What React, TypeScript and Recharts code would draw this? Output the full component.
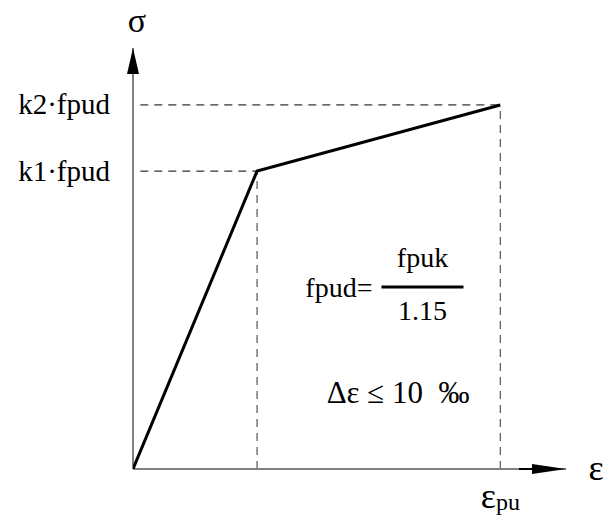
import { ComposedChart, Line, XAxis, YAxis, ReferenceLine, ReferenceDot } from 'recharts'

// strain (arbitrary units) / stress (in fpud) of the bilinear prestressing steel law
const strain = [0, 5.1, 15.1]
const stress = [0, 0.9, 1.1]
const stressTicks = [0.9, 1.1]
const stressTickLabels = ['k1·fpud', 'k2·fpud']
const strainTicks = [15.1]

const X_MAX = 17.8
const Y_MAX = 1.272

const FAMILY = 'Liberation Serif'
const AXIS = '#808080'

const data = strain.map((e, i) => ({ eps: e, sig: stress[i] }))

const StressTick = (props: any) => {
  const { x, y, payload } = props
  const idx = stressTicks.indexOf(payload.value)
  return (
    <text x={x} y={y} dy="0.33em" textAnchor="end" fontFamily={FAMILY} fontSize={29} fill="#000">
      {stressTickLabels[idx]}
    </text>
  )
}

const StrainTick = (props: any) => {
  const { x, y } = props
  return (
    <text x={x} y={y + 31} textAnchor="middle" fontFamily={FAMILY} fill="#000">
      <tspan fontSize={36}>ε</tspan>
      <tspan fontSize={24} dy={2}>pu</tspan>
    </text>
  )
}

const ArrowUp = (props: any) => {
  const { cx, cy } = props
  return (
    <g>
      <path d={`M${cx},${cy} L${cx - 6},${cy + 26} L${cx + 6},${cy + 26} Z`} fill="#000" />
      <text x={cx + 4} y={cy - 16} textAnchor="middle" fontFamily={FAMILY} fontSize={34} fill="#000">σ</text>
    </g>
  )
}

const ArrowRight = (props: any) => {
  const { cx, cy } = props
  return (
    <g>
      <line x1={cx - 47} y1={cy} x2={cx - 20} y2={cy} stroke="#000" strokeWidth={2} />
      <path d={`M${cx},${cy} L${cx - 34},${cy - 5} L${cx - 34},${cy + 5} Z`} fill="#000" />
      <text x={cx + 30} y={cy} dy="0.3em" textAnchor="middle" fontFamily={FAMILY} fontSize={36} fill="#000">ε</text>
    </g>
  )
}

const Fraction = (props: any) => {
  const { cx, cy } = props
  return (
    <g fill="#000" fontFamily={FAMILY} fontSize={28}>
      <text x={cx - 50} y={cy + 10} textAnchor="end">fpud=</text>
      <line x1={cx - 41} y1={cy} x2={cx + 41} y2={cy} stroke="#000" strokeWidth={3} />
      <text x={cx} y={cy - 20} textAnchor="middle">fpuk</text>
      <text x={cx} y={cy + 33} textAnchor="middle">1.15</text>
    </g>
  )
}

const StrainLimit = (props: any) => {
  const { cx, cy } = props
  return (
    <text x={cx} y={cy} textAnchor="middle" fontFamily={FAMILY} style={{ whiteSpace: 'pre' }} fontSize={31} fill="#000">
      Δε ≤ 10  ‰
    </text>
  )
}

export default function App() {
  return (
    <div style={{ position: 'absolute', left: 0, top: 0, background: '#fff' }}>
      <ComposedChart width={606} height={516} data={data} margin={{ top: 48, right: 40, bottom: 0, left: 0 }}>
        <XAxis
          type="number"
          dataKey="eps"
          domain={[0, X_MAX]}
          ticks={strainTicks}
          height={47}
          axisLine={false}
          tickLine={false}
          tick={<StrainTick />}
          allowDataOverflow
        />
        <YAxis
          type="number"
          domain={[0, Y_MAX]}
          ticks={stressTicks}
          width={133}
          axisLine={false}
          tickLine={false}
          tickSize={0}
          tickMargin={23}
          tick={<StressTick />}
          allowDataOverflow
        />

        {/* projection lines */}
        <ReferenceLine segment={[{ x: 0.3, y: stress[1] }, { x: strain[1], y: stress[1] }]} stroke="#000" strokeDasharray="8 6" strokeWidth={1} />
        <ReferenceLine segment={[{ x: 0.3, y: stress[2] }, { x: strain[2], y: stress[2] }]} stroke="#000" strokeDasharray="8 6" strokeWidth={1} />
        <ReferenceLine segment={[{ x: strain[1], y: 0 }, { x: strain[1], y: stress[1] }]} stroke="#555" strokeDasharray="8 6" strokeWidth={1.2} />
        <ReferenceLine segment={[{ x: strain[2], y: 0 }, { x: strain[2], y: stress[2] }]} stroke="#555" strokeDasharray="8 6" strokeWidth={1.2} />

        {/* axes */}
        <ReferenceLine segment={[{ x: 0, y: 0 }, { x: X_MAX, y: 0 }]} stroke={AXIS} strokeWidth={2} />
        <ReferenceLine segment={[{ x: 0, y: 0 }, { x: 0, y: Y_MAX }]} stroke={AXIS} strokeWidth={2} />
        <ReferenceDot x={0} y={Y_MAX} ifOverflow="visible" shape={<ArrowUp />} />
        <ReferenceDot x={X_MAX} y={0} ifOverflow="visible" shape={<ArrowRight />} />

        <Line type="linear" dataKey="sig" stroke="#000" strokeWidth={3} dot={false} isAnimationActive={false} />

        <ReferenceDot x={11.9} y={0.55} ifOverflow="visible" shape={<Fraction />} />
        <ReferenceDot x={10.9} y={0.2} ifOverflow="visible" shape={<StrainLimit />} />
      </ComposedChart>
    </div>
  )
}
